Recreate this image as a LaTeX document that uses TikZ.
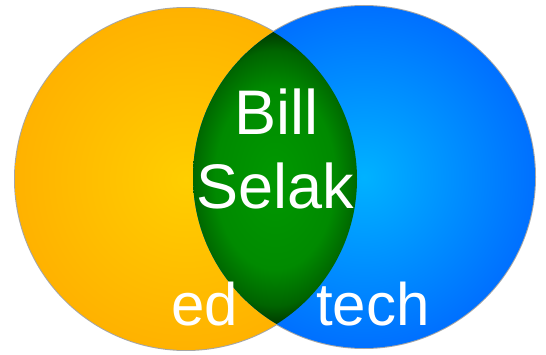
\documentclass[tikz,border=0pt]{standalone}
\usepackage{fontspec}
\setmainfont{Liberation Sans}
\definecolor{gA}{RGB}{0,152,0}
\definecolor{gB}{RGB}{0,138,0}
\definecolor{gC}{RGB}{0,100,0}
\definecolor{gD}{RGB}{0,45,0}
\pgfdeclareradialshading{lensshade}{\pgfpoint{0bp}{0bp}}{color(0bp)=(gA); color(15bp)=(gB); color(21bp)=(gC); color(25bp)=(gD); color(50bp)=(gD)}
\begin{document}
\begin{tikzpicture}[x=1pt,y=1pt,
  lbl/.style={anchor=base west,inner sep=0pt,text=white,font=\fontsize{63}{63}\selectfont},
  smalllbl/.style={anchor=base west,inner sep=0pt,text=white,font=\fontsize{60}{60}\selectfont}]
\useasboundingbox (0,0) rectangle (546,354);
% centers (image y flipped)
\coordinate (L) at (186,175);
\coordinate (R) at (364,177);
% outer rims
\fill[gray!70] (L) circle (172);
\fill[gray!70] (R) circle (172);
% circles
\shade[inner color={rgb,255:red,255;green,206;blue,0},outer color={rgb,255:red,255;green,178;blue,0}] (L) circle (171);
\shade[inner color={rgb,255:red,0;green,178;blue,255},outer color={rgb,255:red,0;green,112;blue,255}] (R) circle (171);
% intersection
\begin{scope}
  \clip (L) circle (171);
  \clip (R) circle (171);
  \shade[shading=lensshade] (275,176) ellipse (100 and 152);
\end{scope}
\node[lbl] (bill) at (234,219) {Bill};
\node[lbl] (selak) at (196,146) {Selak};
\node[smalllbl] (ed) at (171,29) {ed};
\node[smalllbl] (tech) at (316,29) {tech};
\end{tikzpicture}
\end{document}
